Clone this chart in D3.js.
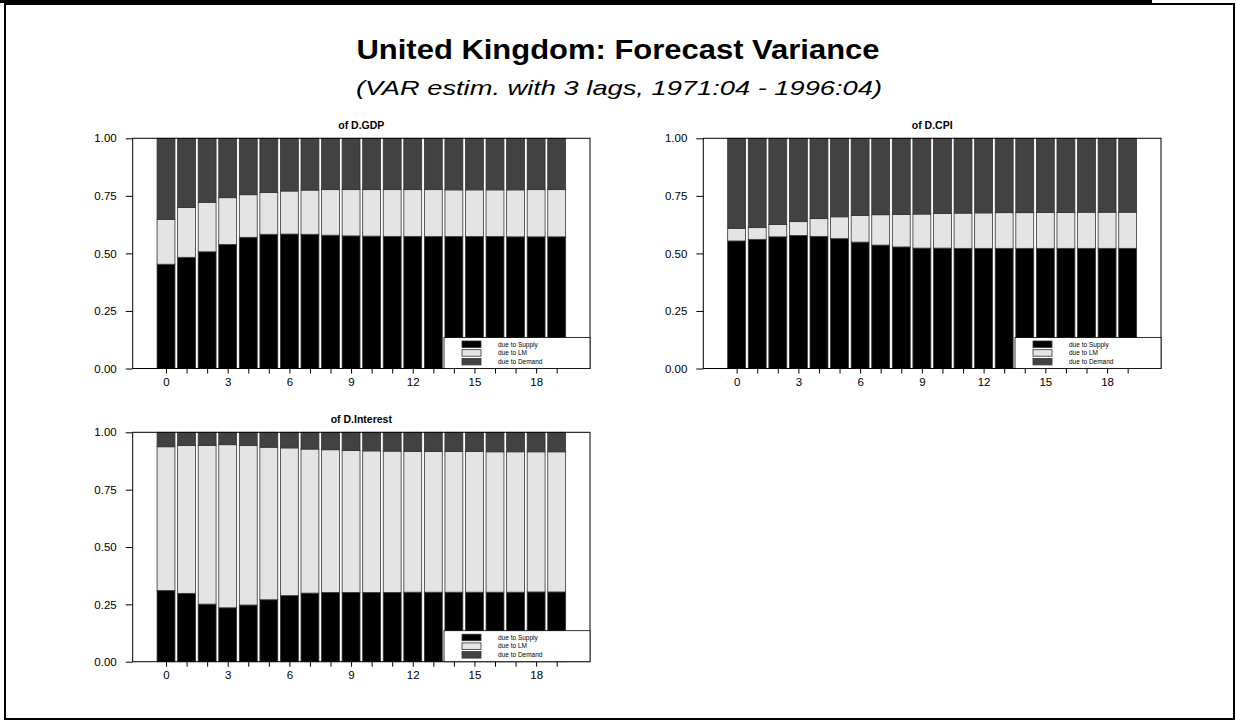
<!DOCTYPE html>
<html>
<head>
<meta charset="utf-8">
<script src="https://cdn.jsdelivr.net/npm/d3@7"></script>
<style>
html,body{margin:0;padding:0;background:#fff;}
svg{display:block;font-family:"Liberation Sans",Arial,sans-serif;}
</style>
</head>
<body>
<svg id="chart" width="1236" height="720"></svg>
<script>
// ---------- data ----------
const horizons = [0,1,2,3,4,5,6,7,8,9,10,11,12,13,14,15,16,17,18,19];
const tickLabels = ["0","3","6","9","12","15","18"];
const yTicks = [0, 0.25, 0.5, 0.75, 1.0];
const seriesNames = ["due to Supply", "due to LM", "due to Demand"];
const seriesColors = ["#000000", "#e4e4e4", "#424242"];

const gdpSupply = [0.453,0.483,0.507,0.539,0.570,0.583,0.584,0.583,0.579,0.576,0.575,0.574,0.574,0.573,0.573,0.573,0.573,0.572,0.572,0.572];
const gdpLM     = [0.195,0.216,0.215,0.203,0.185,0.182,0.187,0.192,0.198,0.201,0.202,0.203,0.203,0.204,0.203,0.203,0.203,0.204,0.205,0.205];
const gdpDemand = [0.352,0.301,0.278,0.258,0.245,0.235,0.229,0.225,0.223,0.223,0.223,0.223,0.223,0.223,0.224,0.224,0.224,0.224,0.223,0.223];

const cpiSupply = [0.554,0.561,0.572,0.578,0.574,0.564,0.549,0.536,0.528,0.523,0.523,0.522,0.522,0.522,0.522,0.522,0.522,0.522,0.522,0.522];
const cpiLM     = [0.055,0.051,0.054,0.060,0.077,0.095,0.116,0.132,0.141,0.148,0.150,0.153,0.154,0.155,0.155,0.156,0.156,0.157,0.157,0.157];
const cpiDemand = [0.391,0.388,0.374,0.362,0.349,0.341,0.335,0.332,0.331,0.329,0.327,0.325,0.324,0.323,0.323,0.322,0.322,0.321,0.321,0.321];

const intSupply = [0.310,0.298,0.251,0.235,0.247,0.270,0.288,0.299,0.302,0.302,0.302,0.302,0.303,0.303,0.303,0.303,0.303,0.303,0.304,0.304];
const intLM     = [0.627,0.644,0.692,0.711,0.695,0.665,0.644,0.628,0.622,0.619,0.617,0.616,0.614,0.613,0.613,0.613,0.612,0.612,0.611,0.611];
const intDemand = [0.063,0.058,0.057,0.054,0.058,0.065,0.068,0.073,0.076,0.079,0.081,0.082,0.083,0.084,0.084,0.084,0.085,0.085,0.085,0.085];

const title = "United Kingdom: Forecast Variance";
const subtitle = "(VAR estim. with 3 lags, 1971:04 - 1996:04)";
const panelTitles = ["of D.GDP", "of D.CPI", "of D.Interest"];

// ---------- drawing ----------
const svg = d3.select("#chart");

// page frame
svg.append("rect").attr("x",0).attr("y",0).attr("width",1152).attr("height",3).attr("fill","#000");
svg.append("rect").attr("x",5).attr("y",4).attr("width",1229).attr("height",715)
  .attr("fill","none").attr("stroke","#000").attr("stroke-width",2);

svg.append("text").attr("x",618).attr("y",59).attr("text-anchor","middle")
  .attr("font-size",27).attr("font-weight","bold")
  .attr("textLength",523).attr("lengthAdjust","spacingAndGlyphs").text(title);
svg.append("text").attr("x",619).attr("y",95).attr("text-anchor","middle")
  .attr("font-size",21).attr("font-style","italic")
  .attr("textLength",526).attr("lengthAdjust","spacingAndGlyphs").text(subtitle);

function panel(x0, y0, w, h, name, supply, lm, demand) {
  const g = svg.append("g");
  const x = d3.scaleLinear().domain([-1.62, 20.62]).range([x0, x0 + w]);
  const y = d3.scaleLinear().domain([0, 1]).range([y0 + h, y0]);
  const step = x(1) - x(0);
  const bw = step * 0.87;

  const rows = horizons.map((d, i) => ({h: d, v: [supply[i], lm[i], demand[i]]}));
  const stack = d3.stack().keys([0,1,2]).value((d, k) => d.v[k]);
  const layers = stack(rows);

  layers.forEach((layer, k) => {
    g.selectAll(null).data(layer).enter().append("rect")
      .attr("x", d => x(d.data.h) - bw / 2)
      .attr("width", bw)
      .attr("y", d => y(d[1]))
      .attr("height", d => y(d[0]) - y(d[1]))
      .attr("fill", seriesColors[k])
      .attr("stroke", "#333")
      .attr("stroke-width", 0.8);
  });

  // frame
  g.append("rect").attr("x", x0).attr("y", y0).attr("width", w).attr("height", h)
    .attr("fill", "none").attr("stroke", "#000").attr("stroke-width", 1);

  // y axis
  const ya = d3.axisLeft(y).tickValues(yTicks).tickFormat(d3.format(".2f")).tickSize(7).tickPadding(9);
  const yg = g.append("g").attr("transform", `translate(${x0},0)`).call(ya);
  yg.select(".domain").remove();
  yg.selectAll("text").attr("font-size", 11.5).attr("font-family", "Liberation Sans, Arial, sans-serif").attr("fill","#000");
  yg.selectAll("line").attr("stroke","#000");

  // x axis
  const xa = d3.axisBottom(x).tickValues(horizons)
    .tickFormat(d => tickLabels.includes(String(d)) ? String(d) : "").tickSize(5).tickPadding(4);
  const xg = g.append("g").attr("transform", `translate(0,${y0 + h})`).call(xa);
  xg.select(".domain").remove();
  xg.selectAll("text").attr("font-size", 11.5).attr("font-family", "Liberation Sans, Arial, sans-serif").attr("fill","#000");
  xg.selectAll("line").attr("stroke","#000");

  // panel title
  g.append("text").attr("x", x0 + w / 2).attr("y", y0 - 9).attr("text-anchor", "middle")
    .attr("font-size", 10.5).attr("font-weight", "bold").text(name);

  // legend
  const lx = x0 + w - 146, ly = y0 + h - 31;
  const lg = g.append("g");
  lg.append("rect").attr("x", lx).attr("y", ly).attr("width", 146).attr("height", 31)
    .attr("fill", "#fff").attr("stroke", "#000").attr("stroke-width", 0.8);
  seriesNames.forEach((s, k) => {
    const ry = ly + 3.5 + k * 8.7;
    lg.append("rect").attr("x", lx + 18).attr("y", ry).attr("width", 19).attr("height", 6.5)
      .attr("fill", seriesColors[k]).attr("stroke", "#333").attr("stroke-width", 0.8);
    lg.append("text").attr("x", lx + 54).attr("y", ry + 5.5).attr("font-size", 6.5).text(s);
  });
}

panel(132.7, 138.3, 457.3, 230.2, panelTitles[0], gdpSupply, gdpLM, gdpDemand);
panel(703.3, 138.3, 457.7, 230.2, panelTitles[1], cpiSupply, cpiLM, cpiDemand);
panel(132.7, 432.3, 457.3, 229.4, panelTitles[2], intSupply, intLM, intDemand);
</script>
</body>
</html>
